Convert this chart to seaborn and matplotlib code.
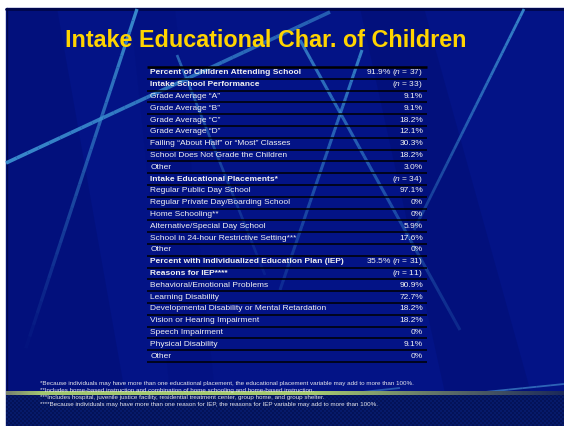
import numpy as np
import pandas as pd
import seaborn as sns
import matplotlib.pyplot as plt
from matplotlib.colors import ListedColormap, LinearSegmentedColormap, to_rgb
from matplotlib.collections import LineCollection
from matplotlib.patches import Rectangle, Polygon
import matplotlib.transforms as mtransforms

title = "Intake Educational Char. of Children"

row_labels = [
    "Percent of Children Attending School",
    "Intake School Performance",
    "Grade Average \u201cA\u201d",
    "Grade Average \u201cB\u201d",
    "Grade Average \u201cC\u201d",
    "Grade Average \u201cD\u201d",
    "Failing \u201cAbout Half\u201d or \u201cMost\u201d Classes",
    "School Does Not Grade the Children",
    "Other",
    "Intake Educational Placements*",
    "Regular Public Day School",
    "Regular Private Day/Boarding School",
    "Home Schooling**",
    "Alternative/Special Day School",
    "School in 24-hour Restrictive Setting***",
    "Other",
    "Percent with Individualized Education Plan (IEP)",
    "Reasons for IEP****",
    "Behavioral/Emotional Problems",
    "Learning Disability",
    "Developmental Disability or Mental Retardation",
    "Vision or Hearing Impairment",
    "Speech Impairment",
    "Physical Disability",
    "Other",
]
row_values = [
    "91.9% ($n$ = 37)", "($n$ = 33)", "9.1%", "9.1%", "18.2%", "12.1%", "30.3%",
    "18.2%", "3.0%", "($n$ = 34)", "97.1%", "0%", "0%", "5.9%", "17.6%", "0%",
    "35.5% ($n$ = 31)", "($n$ = 11)", "90.9%", "72.7%", "18.2%", "18.2%", "0%",
    "9.1%", "0%",
]
header_rows = [1, 1, 0, 0, 0, 0, 0, 0, 0, 1, 0, 0, 0, 0, 0, 0, 1, 1, 0, 0, 0, 0, 0, 0, 0]

footnotes = [
    "*Because individuals may have more than one educational placement, the educational placement variable may add to more than 100%.",
    "**Includes home-based instruction and combination of home schooling and home-based instruction.",
    "***Includes hospital, juvenile justice facility, residential treatment center, group home, and group shelter.",
    "****Because individuals may have more than one reason for IEP, the reasons for IEP variable may add to more than 100%.",
]

sns.set_style("white")
plt.rcParams["font.family"] = ["Liberation Sans", "DejaVu Sans"]
plt.rcParams["mathtext.fontset"] = "custom"
plt.rcParams["mathtext.rm"] = "Liberation Sans"
plt.rcParams["mathtext.it"] = "Liberation Sans:italic"

W, H = 564, 426
fig = plt.figure(figsize=(W / 100, H / 100), dpi=100, facecolor="white")

# slide background, drawn in pixel units
bg = fig.add_axes([0, 0, 1, 1])
bg.set_xlim(0, W)
bg.set_ylim(H, 0)
bg.axis("off")
base = "#031386"
dark = "#000a66"
bg.add_patch(Rectangle((6, 8), W - 6, H - 8, color=base, zorder=0))
bg.add_patch(Polygon([(6, 8), (57, 8), (125, 393), (6, 393)], color=dark, alpha=0.3, lw=0, zorder=1))
bg.add_patch(Polygon([(360, 8), (424, 8), (531, 393), (445, 393)], color=dark, alpha=0.3, lw=0, zorder=1))
bg.add_patch(Polygon([(130, 8), (175, 8), (215, 393), (170, 393)], color=dark, alpha=0.12, lw=0, zorder=1))
bg.plot([6, W], [9, 9], color="#00074a", lw=2, zorder=2)
bg.plot([6.5, 6.5], [8, H], color="#00074a", lw=1, zorder=2)


def streak(p0, p1, lw, a0, a1, color="#3b8fd0"):
    t = np.linspace(0, 1, 31)
    xs = p0[0] + (p1[0] - p0[0]) * t
    ys = p0[1] + (p1[1] - p0[1]) * t
    segs = [[(xs[i], ys[i]), (xs[i + 1], ys[i + 1])] for i in range(30)]
    alphas = np.linspace(a0, a1, 30)
    cols = [(*to_rgb(color), a) for a in alphas]
    bg.add_collection(LineCollection(segs, colors=cols, linewidths=lw, zorder=3))


streak((137, 9), (22, 360), 2.4, 0.95, 0.0)
streak((6, 163), (330, 12), 2.6, 0.95, 0.6)
streak((300, 40), (460, 330), 2.2, 0.8, 0.2)
streak((362, 50), (280, 290), 2.2, 0.85, 0.2)
streak((177, 55), (265, 275), 1.9, 0.65, 0.1)
streak((524, 9), (414, 230), 2.0, 0.9, 0.3)

# bottom strip
rows_chk = np.indices((16, 279)).sum(axis=0) % 2
chk = ListedColormap(["#031258", "#061a6a"])
bg.imshow(rows_chk, cmap=chk, extent=(6, W, H, 394), aspect="auto", interpolation="nearest", zorder=4)
streak((40, 426), (400, 388), 1.3, 0.9, 0.5, "#4a9ad8")
streak((150, 426), (564, 384), 1.3, 0.8, 0.6, "#4a9ad8")
streak((6, 412), (220, 397), 1.1, 0.7, 0.3, "#4a9ad8")
streak((380, 426), (564, 404), 1.1, 0.7, 0.5, "#4a9ad8")
band = LinearSegmentedColormap.from_list(
    "band", [(0, "#7a8470"), (0.06, "#a2c670"), (0.55, "#a8cc70"), (0.8, "#5a6a68"), (1, "#1c2a5a")])
bg.imshow(np.linspace(0, 1, 300)[None, :], cmap=band, extent=(6, W, 395.5, 392.3),
          aspect="auto", zorder=5)

# title
fig.text(266 / W, 1 - 47 / H, title, ha="center", va="baseline", color="#ffd400",
         fontsize=16.8, fontweight="bold")

# table drawn as an invisible seaborn heatmap with row rules
n = len(row_labels)
df = pd.DataFrame({"header": header_rows}, index=row_labels)
ax = fig.add_axes([147 / W, 1 - 362 / H, 280 / W, 295 / H])
sns.heatmap(df, ax=ax, cmap=ListedColormap([(0, 0, 0, 0), (0, 0, 0, 0)]), cbar=False,
            xticklabels=False, yticklabels=False, linewidths=0)
ax.set_facecolor("none")
ax.set_xlabel("")
ax.set_ylabel("")
ax.hlines(np.arange(1, n + 1), 0, 1, color="black", lw=1.1, clip_on=False)
ax.hlines([0], 0, 1, color="black", lw=1.8, clip_on=False)
trans = mtransforms.blended_transform_factory(ax.transAxes, ax.transData)
for i, (lab, val, hd) in enumerate(zip(row_labels, row_values, header_rows)):
    ax.text(0.0125, i + 0.5, lab, transform=trans, ha="left", va="center",
            color="#f2f2f2", fontsize=6.0, fontweight="bold" if hd else "normal")
    ax.text(0.986, i + 0.5, val, transform=trans, ha="right", va="center",
            color="#f2f2f2", fontsize=6.0)

for k, note in enumerate(footnotes):
    y = [384, 390.5, 397.5, 404.5][k]
    fig.text(40 / W, 1 - y / H, note, ha="left", va="center", color="#e4e4ec", fontsize=4.5)

fig.savefig("out.png", dpi=100, facecolor="white")
